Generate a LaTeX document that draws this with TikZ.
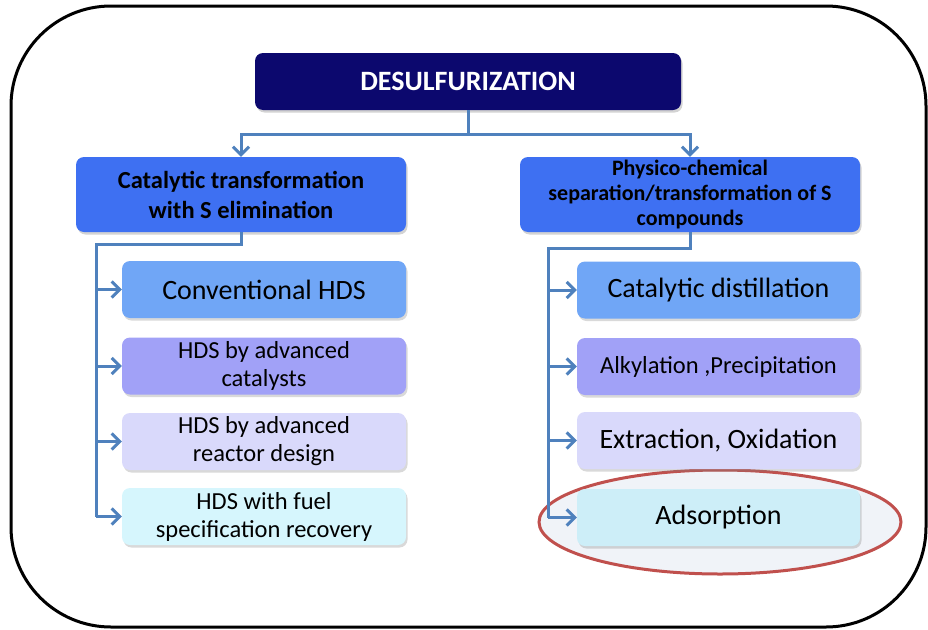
\documentclass[tikz,border=0pt]{standalone}
\usepackage{fontspec}
\setmainfont{Carlito}
\usetikzlibrary{shadows,arrows.meta}

\definecolor{navy}{RGB}{12,8,110}
\definecolor{groupblue}{RGB}{62,112,242}
\definecolor{convblue}{RGB}{112,166,246}
\definecolor{lavender}{RGB}{161,161,247}
\definecolor{palelav}{RGB}{217,217,251}
\definecolor{palecyan}{RGB}{214,246,253}
\definecolor{adscyan}{RGB}{205,238,248}
\definecolor{linkblue}{RGB}{79,129,189}
\definecolor{hilite}{RGB}{240,243,248}
\definecolor{hiliteline}{RGB}{192,80,77}

\tikzset{
  topbox/.style={rectangle, rounded corners=8pt, fill=navy, text=white, font=\bfseries\fontsize{28}{32}\selectfont,
    minimum width=426pt, minimum height=57pt, inner sep=0pt, drop shadow={shadow xshift=1.5pt, shadow yshift=-2.5pt, opacity=0.35}},
  groupbox/.style={rectangle, rounded corners=8pt, fill=groupblue, align=center, inner sep=0pt,
    font=\bfseries\fontsize{24.5}{30}\selectfont, minimum height=75pt,
    drop shadow={shadow xshift=1.5pt, shadow yshift=-2.5pt, opacity=0.35}},
  leafbox/.style={rectangle, rounded corners=8pt, align=center, inner sep=0pt,
    minimum width=284pt, minimum height=57pt, font=\fontsize{28}{32}\selectfont,
    drop shadow={shadow xshift=1.5pt, shadow yshift=-2.5pt, opacity=0.3}},
  smalltext/.style={font=\fontsize{24.5}{28}\selectfont},
  link/.style={draw=linkblue, line width=3pt},
  >={Straight Barb[length=8pt, width=16pt]},
}

\begin{document}
\begin{tikzpicture}[x=1pt, y=-1pt]
    \useasboundingbox (0,0) rectangle (928,629);
    \draw[line width=3pt, rounded corners=100pt] (11,6) rectangle (926,627);

    % highlight behind the last leaf
    \draw[fill=hilite, draw=hiliteline, line width=3pt] (720,522) ellipse [x radius=181, y radius=52];

    \node[topbox] (desulf) at (468,81.5) {DESULFURIZATION};

    \node[groupbox, minimum width=330pt] (cat) at (241,194.5) {Catalytic transformation\\with S elimination};
    \node[groupbox, minimum width=340pt, font=\bfseries\fontsize{22}{25}\selectfont] (phys) at (690,194.5) {Physico-chemical\\separation/transformation of S\\compounds};

    \node[leafbox, fill=convblue] (conv) at (264,289.5) {Conventional HDS};
    \node[leafbox, fill=lavender, smalltext, yshift=-76.5pt] (hdscat) at (conv) {HDS by advanced\\catalysts};
    \node[leafbox, fill=palelav, smalltext, yshift=-75.5pt] (hdsreac) at (hdscat) {HDS by advanced\\reactor design};
    \node[leafbox, fill=palecyan, smalltext, yshift=-75pt] (hdsfuel) at (hdsreac) {HDS with fuel\\specification recovery};

    \node[leafbox, fill=convblue, minimum width=283pt] (dist) at (718.5,290) {Catalytic distillation};
    \node[leafbox, fill=lavender, smalltext, minimum width=283pt, yshift=-76.5pt] (alky) at (dist) {Alkylation ,Precipitation};
    \node[leafbox, fill=palelav, minimum width=283pt, yshift=-74pt] (extr) at (alky) {Extraction, Oxidation};
    \node[leafbox, fill=adscyan, minimum width=283pt, yshift=-77pt] (ads) at (extr) {Adsorption};

    \coordinate (split) at (468,134);
    \coordinate (lbus) at (96,244);
    \coordinate (rbus) at (548,248);

    \draw[link, ->] (desulf.south) -- (split) -| (cat.north);
    \draw[link, ->] (split) -| (phys.north);

    \draw[link] (cat.south) |- (lbus) -- (lbus |- hdsfuel.west);
    \foreach \leaf in {conv, hdscat, hdsreac, hdsfuel}
        \draw[link, ->] (lbus |- \leaf.west) -- (\leaf.west);

    \draw[link] (phys.south) |- (rbus) -- (rbus |- ads.west);
    \foreach \leaf in {dist, alky, extr, ads}
        \draw[link, ->] (rbus |- \leaf.west) -- (\leaf.west);
\end{tikzpicture}
\end{document}
